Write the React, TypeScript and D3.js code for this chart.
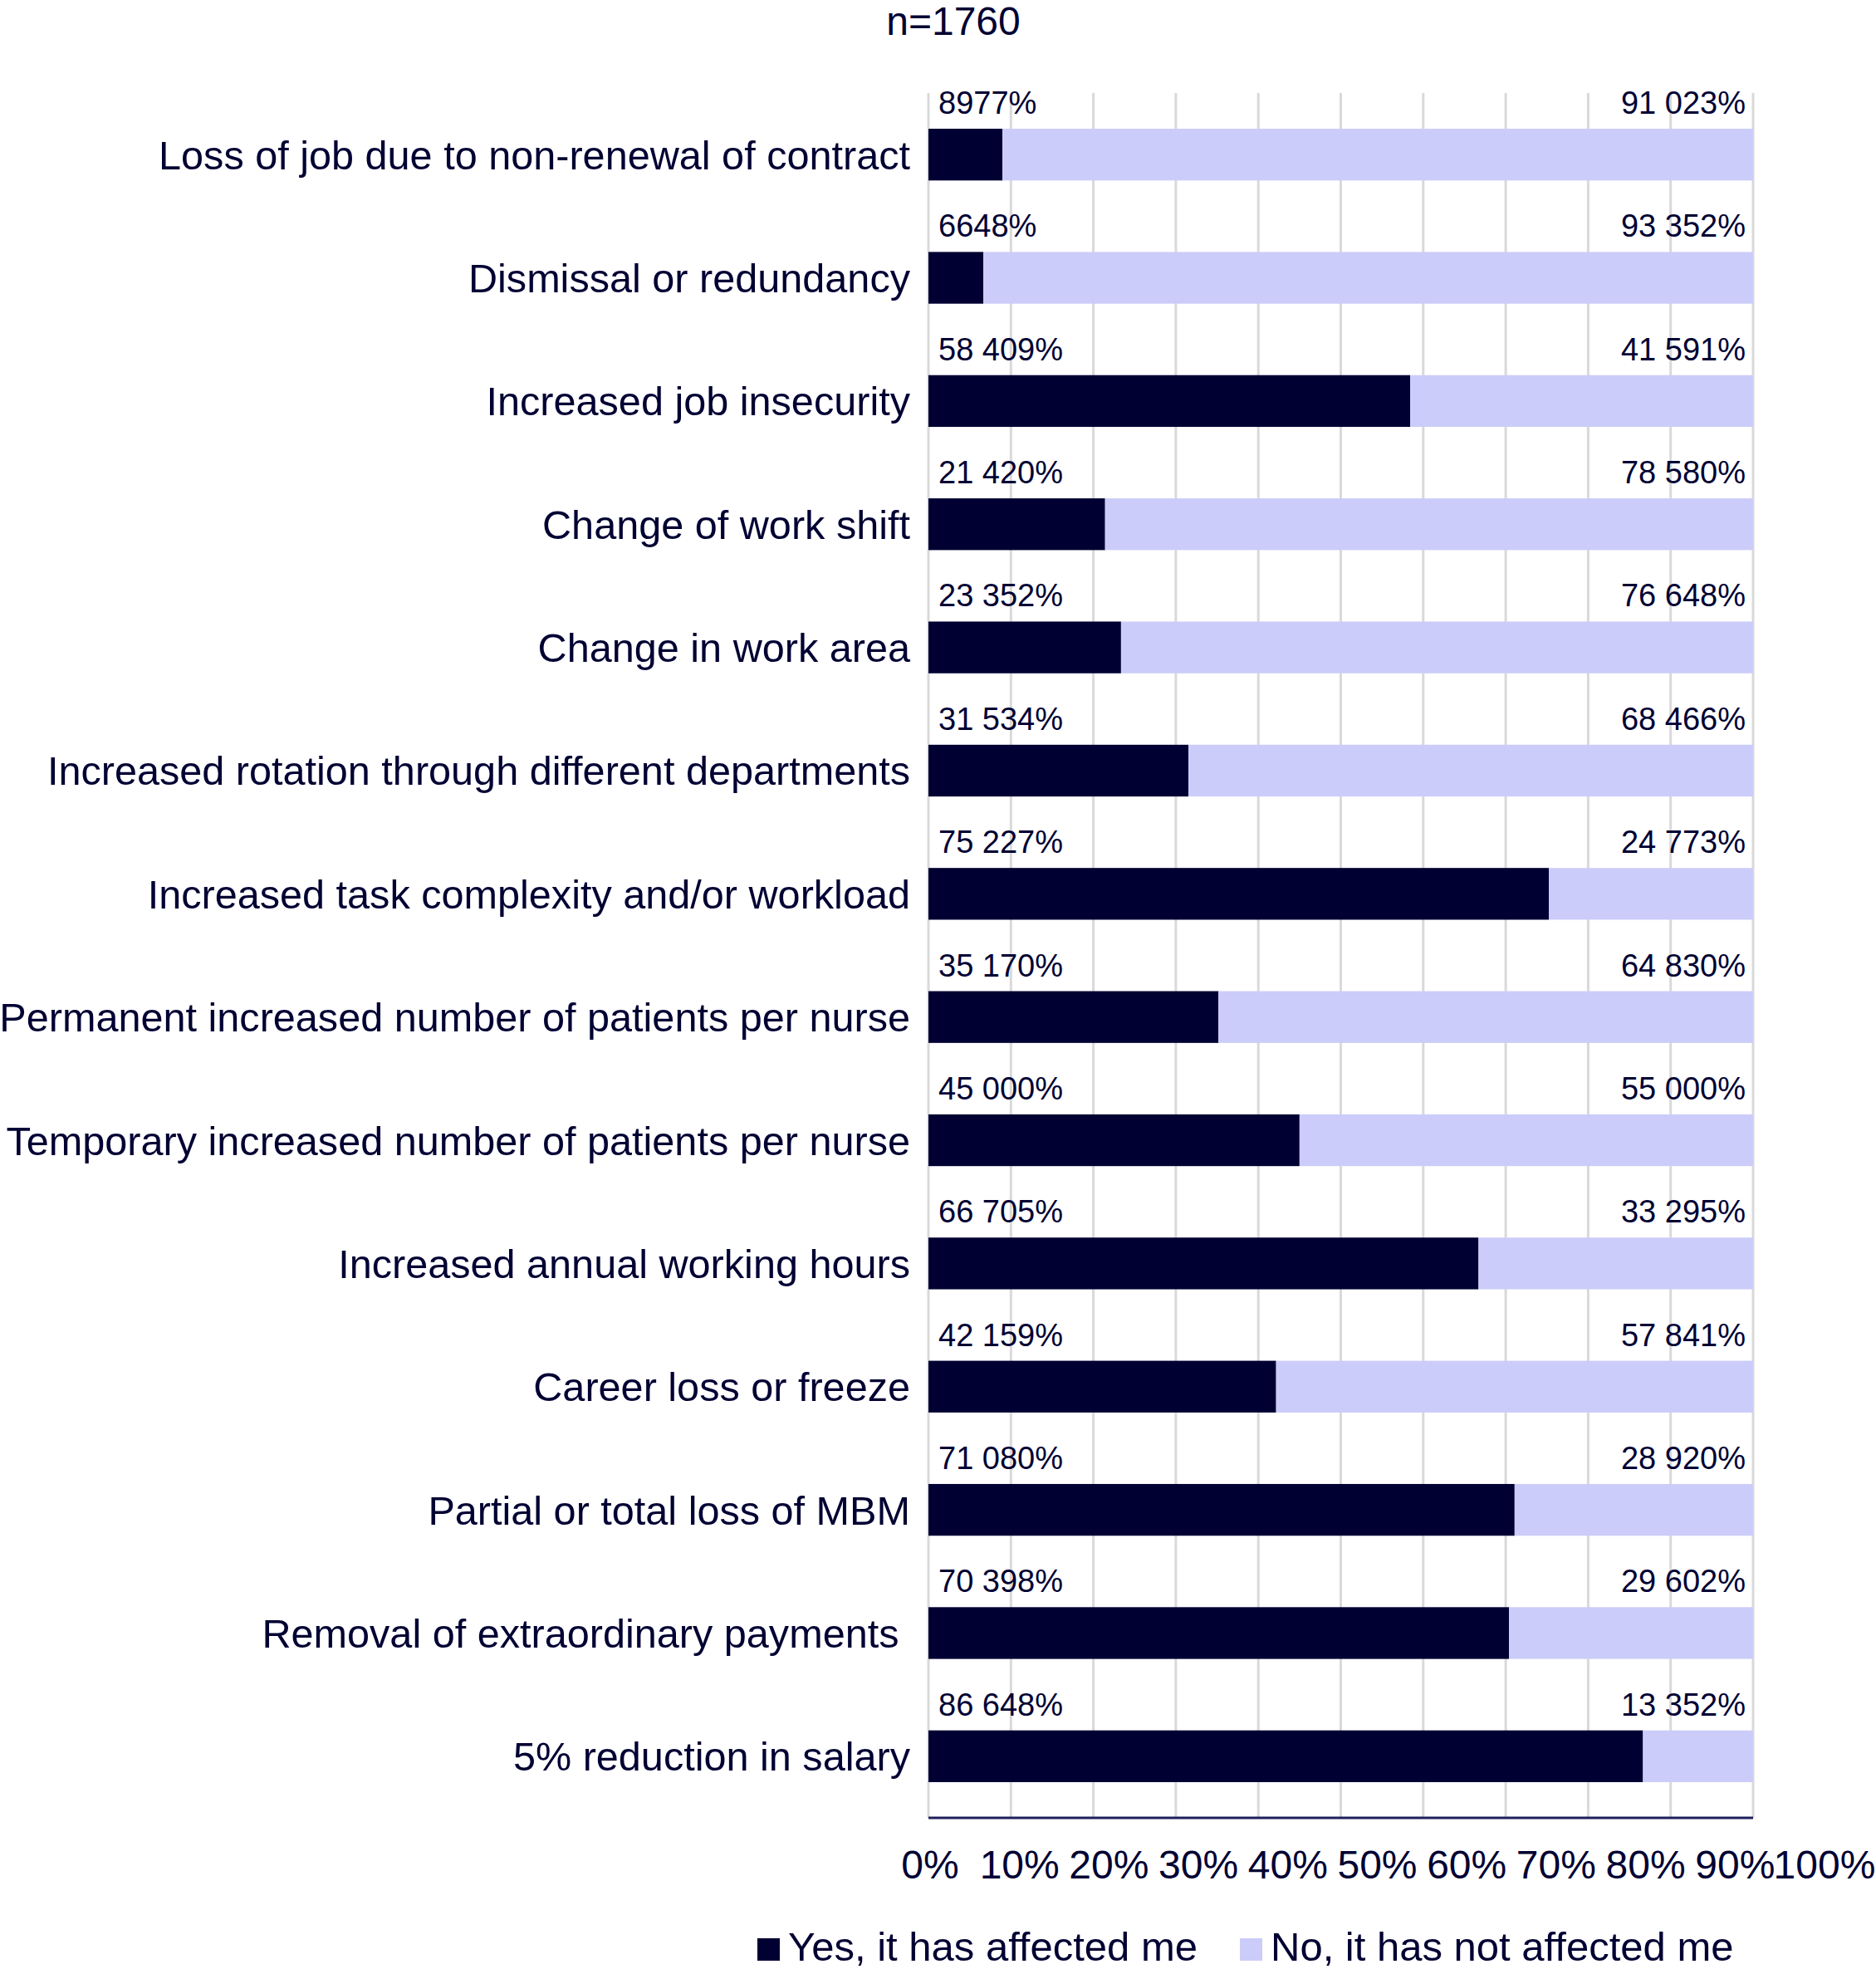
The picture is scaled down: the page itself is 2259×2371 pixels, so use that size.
import React from 'react';
import * as d3 from 'd3';

const title = 'n=1760';
const categories = [
  'Loss of job due to non-renewal of contract',
  'Dismissal or redundancy',
  'Increased job insecurity',
  'Change of work shift',
  'Change in work area',
  'Increased rotation through different departments',
  'Increased task complexity and/or workload',
  'Permanent increased number of patients per nurse',
  'Temporary increased number of patients per nurse',
  'Increased annual working hours',
  'Career loss or freeze',
  'Partial or total loss of MBM',
  'Removal of extraordinary payments ',
  '5% reduction in salary',
];
const yesValues = [8.977, 6.648, 58.409, 21.42, 23.352, 31.534, 75.227, 35.17, 45.0, 66.705, 42.159, 71.08, 70.398, 86.648];
const noValues = [91.023, 93.352, 41.591, 78.58, 76.648, 68.466, 24.773, 64.83, 55.0, 33.295, 57.841, 28.92, 29.602, 13.352];
const yesLabels = ['8977%', '6648%', '58 409%', '21 420%', '23 352%', '31 534%', '75 227%', '35 170%', '45 000%', '66 705%', '42 159%', '71 080%', '70 398%', '86 648%'];
const noLabels = ['91 023%', '93 352%', '41 591%', '78 580%', '76 648%', '68 466%', '24 773%', '64 830%', '55 000%', '33 295%', '57 841%', '28 920%', '29 602%', '13 352%'];
const xTicks = [0, 10, 20, 30, 40, 50, 60, 70, 80, 90, 100];
const tickLabels = ['0%', '10%', '20%', '30%', '40%', '50%', '60%', '70%', '80%', '90%', '100%'];
const seriesNames = ['Yes, it has affected me', 'No, it has not affected me'];

const DARK = '#000033';
const LIGHT = '#ccccfa';
const TEXT = '#000033';
const FONT = '"Liberation Sans", Arial, Helvetica, sans-serif';

export default function App() {
  const W = 2259;
  const H = 2371;
  const x0 = 1118;
  const x1 = 2111;
  const yTop = 112;
  const yBot = 2189;

  const x = d3.scaleLinear().domain([0, 100]).range([x0, x1]);
  const xLab = d3.scaleLinear().domain([0, 100]).range([1120, 2197]);
  const y = d3
    .scaleBand<string>()
    .domain(categories)
    .range([yTop, yBot])
    .paddingInner(0.58)
    .paddingOuter(0.29);
  const bw = y.bandwidth();

  const legendColors = [DARK, LIGHT];
  const legendX = [912, 1493];

  return (
    <svg
      width={W}
      height={H}
      viewBox={`0 0 ${W} ${H}`}
      style={{ position: 'absolute', left: 0, top: 0, display: 'block', background: '#fff' }}
      fontFamily={FONT}
    >
      <rect x={0} y={0} width={W} height={H} fill="#fff" />
      <text x={1148} y={42} fontSize={48} fill={TEXT} textAnchor="middle">
        {title}
      </text>

      {/* grid */}
      {xTicks.map((t) => (
        <line key={`g${t}`} x1={x(t)} x2={x(t)} y1={yTop} y2={yBot} stroke="#d9d9d9" strokeWidth={3} />
      ))}

      {/* bars */}
      {categories.map((c, i) => {
        const by = y(c) as number;
        return (
          <g key={c}>
            <rect x={x(0)} y={by} width={x(yesValues[i]) - x(0)} height={bw} fill={DARK} />
            <rect
              x={x(yesValues[i])}
              y={by}
              width={x(yesValues[i] + noValues[i]) - x(yesValues[i])}
              height={bw}
              fill={LIGHT}
            />
            <text x={x0 + 12} y={by - 18} fontSize={38} fill={TEXT} textAnchor="start">
              {yesLabels[i]}
            </text>
            <text x={x1 - 9} y={by - 18} fontSize={38} fill={TEXT} textAnchor="end">
              {noLabels[i]}
            </text>
            <text
              x={x0 - 22}
              y={by + bw / 2}
              dy="0.36em"
              fontSize={48.6}
              fill={TEXT}
              textAnchor="end"
              style={{ whiteSpace: 'pre' }}
            >
              {c}
            </text>
          </g>
        );
      })}

      {/* bottom axis */}
      <line x1={x0} x2={x1} y1={yBot} y2={yBot} stroke="#1f1f5c" strokeWidth={3} />

      {/* tick labels */}
      {xTicks.map((t, i) => (
        <text key={`t${t}`} x={xLab(t)} y={2262} fontSize={48} fill={TEXT} textAnchor="middle">
          {tickLabels[i]}
        </text>
      ))}

      {/* legend */}
      {seriesNames.map((s, i) => (
        <g key={s}>
          <rect x={legendX[i]} y={2334} width={27} height={27} fill={legendColors[i]} />
          <text x={legendX[i] + 37} y={2361} fontSize={49} fill={TEXT}>
            {s}
          </text>
        </g>
      ))}
    </svg>
  );
}
